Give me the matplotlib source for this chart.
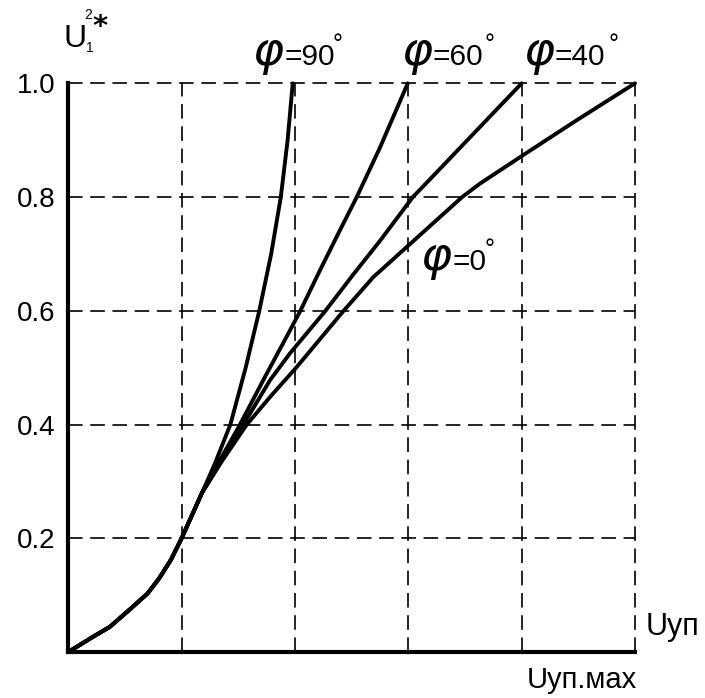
import matplotlib
matplotlib.use('Agg')
import matplotlib.pyplot as plt

plt.rcParams['font.family'] = ['Liberation Sans', 'DejaVu Sans']
plt.rcParams['lines.scale_dashes'] = False
plt.rcParams['mathtext.fontset'] = 'dejavusans'

# shared lower part of all curves
common_x = [0, 0.044, 0.073, 0.111, 0.14, 0.16, 0.181, 0.2, 0.236]
common_y = [0, 0.027, 0.044, 0.077, 0.103, 0.129, 0.162, 0.2, 0.28]

phi90_x = [0.259, 0.286, 0.313, 0.337, 0.358, 0.375, 0.387, 0.396]
phi90_y = [0.332, 0.4, 0.5, 0.6, 0.7, 0.8, 0.9, 1.0]

phi60_x = [0.268, 0.303, 0.344, 0.385, 0.409, 0.444, 0.479, 0.509, 0.55, 0.599]
phi60_y = [0.338, 0.4, 0.478, 0.554, 0.599, 0.671, 0.741, 0.8, 0.887, 1.0]

phi40_x = [0.27, 0.309, 0.356, 0.391, 0.453, 0.503, 0.55, 0.608, 0.638, 0.8]
phi40_y = [0.336, 0.4, 0.478, 0.525, 0.599, 0.664, 0.723, 0.8, 0.831, 1.0]

phi0_x = [0.27, 0.315, 0.36, 0.403, 0.485, 0.538, 0.597, 0.695, 0.727, 0.8, 0.897, 1.0]
phi0_y = [0.334, 0.4, 0.453, 0.501, 0.599, 0.659, 0.712, 0.8, 0.824, 0.872, 0.935, 1.0]

grid_ticks = [0.2, 0.4, 0.6, 0.8, 1.0]
ytick_labels = ['0.2', '0.4', '0.6', '0.8', '1.0']

W, H = 705, 698
fig = plt.figure(figsize=(W / 100, H / 100), dpi=100)
ax = fig.add_axes([68.3 / W, 1 - 652 / H, (635 - 68.3) / W, (652 - 83.3) / H])
ax.set_xlim(0, 1)
ax.set_ylim(0, 1)

for v in grid_ticks:
    ax.plot([v, v], [0, 1], color='black', lw=1.2, dashes=(10.5, 5.5), clip_on=False, zorder=1)
    ax.plot([0, 1], [v, v], color='black', lw=1.2, dashes=(10.5, 5.5), clip_on=False, zorder=1)

for xs, ys in [(phi90_x, phi90_y), (phi60_x, phi60_y), (phi40_x, phi40_y), (phi0_x, phi0_y)]:
    ax.plot(common_x + xs, common_y + ys, color='black', lw=2.8, clip_on=False,
            solid_joinstyle='round', solid_capstyle='round', zorder=3)

for s in ['top', 'right']:
    ax.spines[s].set_visible(False)
for s in ['left', 'bottom']:
    ax.spines[s].set_linewidth(3)
    ax.spines[s].set_capstyle('projecting')

ax.set_xticks([])
ax.set_yticks(grid_ticks)
ax.set_yticklabels(ytick_labels, fontsize=20)
ax.tick_params(axis='y', length=0, pad=9.5)


def ptext(px, py, s, **kw):
    fig.text(px / W, 1 - py / H, s, **kw)


# y axis title U1^2*
ptext(64, 47, 'U', fontsize=23, ha='left', va='baseline')
ptext(86, 52, '1', fontsize=10, ha='left', va='baseline')
ptext(84, 19, '2', fontsize=10, ha='left', va='baseline')
ptext(92, 35, '*', fontsize=21, ha='left', va='baseline', fontweight='bold',
      family='DejaVu Sans')

# phi labels: (phi left, text left, degree left, baseline)
labels = [(252, 284, 333, 65, '=90'), (401, 433, 485, 65, '=60'),
          (523, 555, 608, 65, '=40'), (420, 452, 485, 270, '=0')]
for px, tx, dx, by, txt in labels:
    ptext(px, by, r'$\varphi$', fontsize=34, ha='left', va='baseline')
    ptext(tx, by, txt, fontsize=21.5, ha='left', va='baseline')
    ptext(dx, by - 13, '°', fontsize=18, ha='left', va='baseline')

ptext(646, 635, 'Uyп', fontsize=22, ha='left', va='baseline')
ptext(637, 688, 'Uyп.мах', fontsize=21, ha='right', va='baseline')

fig.savefig('out.png', dpi=100)
